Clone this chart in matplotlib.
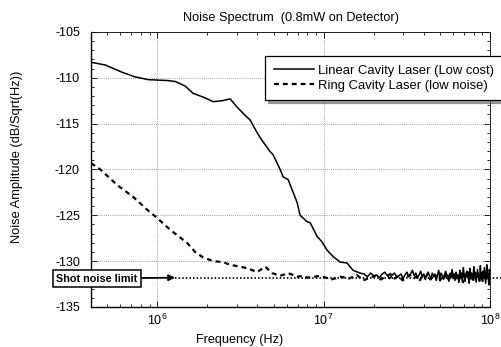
# coding: utf-8

import numpy
import matplotlib
matplotlib.use("Agg")
import matplotlib.pyplot as plt
from matplotlib.ticker import MultipleLocator, LogLocator, NullFormatter

plt.rcParams['font.family'] = ['Liberation Sans', 'DejaVu Sans']
plt.rcParams['mathtext.fontset'] = 'custom'
plt.rcParams['mathtext.rm'] = 'Liberation Sans'
plt.rcParams['axes.unicode_minus'] = False

# Linear cavity laser, smooth part (Hz, dB/sqrt(Hz))
linear_freq = [4.0e5, 4.87e5, 6.16e5, 7.38e5, 8.83e5, 1.164e6, 1.283e6, 1.473e6,
               1.645e6, 1.889e6, 2.17e6, 2.457e6, 2.744e6, 3.023e6, 3.377e6, 3.62e6,
               3.988e6, 4.255e6, 4.772e6, 4.974e6, 5.48e6, 5.713e6, 6.12e6, 6.93e6,
               7.225e6, 7.96e6, 8.30e6, 9.14e6, 9.79e6, 1.049e7, 1.14e7, 1.256e7,
               1.383e7, 1.503e7, 1.656e7]
linear_db = [-108.3, -108.6, -109.4, -109.9, -110.2, -110.3, -110.4, -110.9,
             -111.7, -112.1, -112.6, -112.5, -112.3, -113.2, -114.1, -114.6,
             -116.0, -116.8, -118.05, -118.4, -120.0, -120.8, -121.1, -123.6,
             -125.0, -125.7, -125.8, -127.3, -127.9, -128.8, -129.5, -130.1,
             -130.2, -131.0, -131.3]

# Linear cavity laser, noise floor part (analyzer bins 1.75e7 .. 1e8 Hz)
linear_noise_db = [
    -131.4, -131.7, -131.3, -131.6, -131.5, -131.8, -131.4, -131.2, -131.6, -131.9,
    -131.5, -131.3, -131.7, -131.6, -131.4, -131.9, -131.5, -131.2, -131.7, -131.4,
    -131.0, -131.6, -131.3, -131.8, -131.5, -131.1, -131.7, -131.4, -132.0, -131.5,
    -131.2, -131.6, -131.9, -131.3, -131.7, -131.4, -132.1, -131.5, -131.0, -131.8,
    -131.3, -131.6, -132.0, -131.4, -131.1, -131.7, -131.5, -132.2, -131.3, -131.8,
    -130.9, -131.6, -131.4, -132.1, -131.2, -131.7, -131.5, -132.3, -131.0, -131.8,
    -131.3, -131.9, -130.7, -131.6, -132.2, -131.4, -131.1, -131.8, -131.5, -132.4,
    -130.8, -131.7, -131.3, -132.0, -131.5, -130.6, -131.9, -131.2, -132.3, -131.6,
    -130.9, -131.8, -131.4, -132.2, -130.5, -131.7, -131.3, -132.0, -131.1, -131.9,
    -130.7, -131.6, -132.4, -131.2, -130.4, -131.8, -131.5, -132.6, -130.9, -131.7,
]

# Ring cavity laser, smooth part
ring_freq = [4.0e5, 4.55e5, 5.75e5, 7.18e5, 8.71e5, 1.0e6, 1.2e6, 1.51e6, 1.69e6,
             1.89e6, 2.17e6, 2.49e6, 2.74e6, 3.15e6, 3.52e6, 3.98e6, 4.46e6, 4.9e6,
             5.48e6, 6.12e6, 6.93e6, 7.53e6]
ring_db = [-119.3, -120.0, -121.7, -123.0, -124.4, -125.3, -126.6, -128.0, -129.0,
           -129.6, -130.0, -130.1, -130.4, -130.6, -130.8, -131.2, -130.6, -131.3,
           -131.6, -131.3, -131.7, -131.6]

# Ring cavity laser, noise floor part (analyzer bins 8e6 .. 1e8 Hz)
ring_noise_db = [
    -131.8, -131.6, -132.0, -131.7, -131.9, -131.5, -132.1, -131.8, -131.6, -132.0,
    -131.7, -131.4, -131.9, -131.6, -132.1, -131.8, -131.5, -131.9, -131.7, -132.2,
    -131.6, -131.8, -131.4, -132.0, -131.7, -131.9, -131.5, -132.1, -131.6, -131.8,
    -131.3, -132.0, -131.7, -131.5, -132.2, -131.8, -131.4, -131.9, -131.6, -132.3,
    -131.5, -131.8, -131.2, -132.0, -131.7, -131.4, -132.2, -131.6, -131.9, -131.3,
    -132.1, -131.7, -131.5, -132.3, -131.6, -131.2, -131.9, -132.0, -131.4, -131.8,
]

shot_noise_db = -131.8
shot_noise_start = 1.28e6

title = "Noise Spectrum  (0.8mW on Detector)"
legend_labels = ["Linear Cavity Laser (Low cost)", "Ring Cavity Laser (low noise)"]

linear_noise_freq = numpy.linspace(1.75e7, 1.0e8, len(linear_noise_db))
ring_noise_freq = numpy.linspace(8.0e6, 1.0e8, len(ring_noise_db))

fig = plt.figure(figsize=(5.02, 3.47), dpi=100)
ax = fig.add_axes([0.1813, 0.1153, 0.7948, 0.7925])

ax.plot(list(linear_freq) + list(linear_noise_freq), linear_db + linear_noise_db,
        color="black", linewidth=1.1, label=legend_labels[0])
ax.plot(list(ring_freq) + list(ring_noise_freq), ring_db + ring_noise_db,
        color="black", linewidth=1.6, linestyle=(0, (2.2, 1.8)), label=legend_labels[1])

# shot noise limit, runs past the right edge
ax.plot([shot_noise_start, 1.3e8], [shot_noise_db, shot_noise_db], color="black",
        linewidth=1.3, linestyle=(0, (0.8, 1.2)), clip_on=False)

ax.set_xscale("log")
ax.set_xlim(4.0e5, 1.0e8)
ax.set_ylim(-135, -105)
ax.yaxis.set_major_locator(MultipleLocator(5))
ax.yaxis.set_minor_locator(MultipleLocator(1))
ax.xaxis.set_major_locator(LogLocator(base=10))
ax.xaxis.set_minor_locator(LogLocator(base=10, subs=numpy.arange(2, 10)))
ax.xaxis.set_minor_formatter(NullFormatter())

ax.tick_params(which="both", direction="in", top=True, right=True, labelsize=9)
ax.tick_params(which="major", length=4, width=0.6)
ax.tick_params(which="minor", length=2.5, width=0.6)
ax.tick_params(axis="y", pad=8)
ax.tick_params(axis="x", pad=4)
ax.grid(True, which="major", color="gray", linestyle=(0, (1, 1.5)), linewidth=0.6)

for side in ["left", "bottom"]:
    ax.spines[side].set_linewidth(1.0)
for side in ["top", "right"]:
    ax.spines[side].set_linewidth(0.6)

ax.set_title(title, fontsize=9.2, pad=8)
ax.set_xlabel("Frequency (Hz)", fontsize=9.1)
ax.xaxis.set_label_coords(0.372, -0.098)
ax.set_ylabel("Noise Amplitude (dB/Sqrt(Hz))", fontsize=9.3)
ax.yaxis.set_label_coords(-0.17, 0.545)

leg = ax.legend(loc="upper left", bbox_to_anchor=(0.437, 0.913), fontsize=9.4,
                frameon=True, fancybox=False, shadow=True, handlelength=3.1,
                handletextpad=0.3, borderpad=0.65, labelspacing=0.25,
                borderaxespad=0.0)
leg.get_frame().set_edgecolor("black")
leg.get_frame().set_linewidth(0.9)
leg.set_clip_on(False)

ax.annotate("Shot noise limit", xy=(shot_noise_start, shot_noise_db),
            xycoords="data", xytext=(97, 347 - 278.5), textcoords="figure pixels",
            fontsize=7.8, fontweight="bold", ha="center", va="center",
            bbox=dict(boxstyle="square,pad=0.35", facecolor="white",
                      edgecolor="black", linewidth=1.1),
            arrowprops=dict(arrowstyle="-|>", color="black", linewidth=1.3,
                            mutation_scale=9, shrinkA=0, shrinkB=0))

fig.savefig("out.png", dpi=100)
